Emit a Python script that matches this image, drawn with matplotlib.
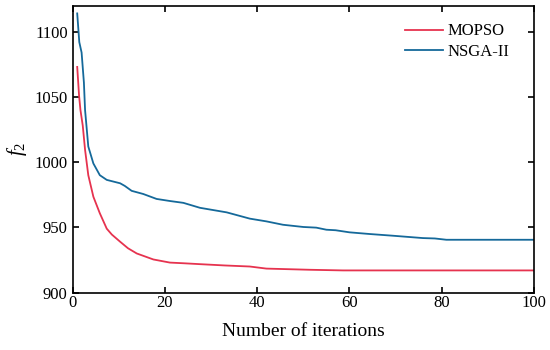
import matplotlib
matplotlib.use("Agg")
import matplotlib.pyplot as plt

# values
mopso_x = [1, 1.4, 1.7, 2.2, 2.7, 3.4, 4.5, 5.9, 7.4, 8.5, 10.3, 12, 13.9, 17.5, 21.1, 24, 27.6,
           33, 38.4, 42, 51.4, 58.6, 70, 80, 90, 100]
mopso_y = [1073, 1051, 1040, 1028, 1009.5, 990, 973.5, 960.8, 949, 944.5, 939, 934, 930, 925.4, 923,
           922.5, 921.8, 920.8, 920, 918.4, 917.5, 917, 917, 917, 917, 917]

nsga_x = [1, 1.45, 1.95, 2.45, 2.7, 3.4, 4.5, 5.9, 7.4, 10.3, 11.3, 12.8, 15.3, 18.2, 21.1,
          24, 27.6, 33.4, 38.4, 42, 45.6, 50, 52.8, 55, 57, 60, 64.4, 69.4, 75.9, 78.5, 81, 90, 100]
nsga_y = [1114, 1092, 1084, 1061, 1040, 1012, 999, 990, 986.4, 983.8, 981.8, 978, 975.6, 971.8,
          970.2, 968.8, 965, 961.5, 956.7, 954.6, 952, 950.3, 949.8, 948.2, 947.8, 946.2, 944.9,
          943.6, 941.8, 941.5, 940.5, 940.5, 940.5]

plt.rcParams['font.family'] = ['Liberation Serif', 'DejaVu Serif']
plt.rcParams['mathtext.fontset'] = 'custom'
plt.rcParams['mathtext.it'] = 'Liberation Serif:italic'
plt.rcParams['mathtext.rm'] = 'Liberation Serif'

fig = plt.figure(figsize=(5.5, 3.5), dpi=100)
ax = fig.add_axes([0.132, 0.164, 0.839, 0.820])

ax.plot(mopso_x, mopso_y, color="#e6334f", lw=1.3, label="MOPSO")
ax.plot(nsga_x, nsga_y, color="#15699a", lw=1.3, label="NSGA-II")

ax.set_xlim(0, 100)
ax.set_ylim(900, 1120)
ax.set_xticks([0, 20, 40, 60, 80, 100])
ax.set_yticks([900, 950, 1000, 1050, 1100])
ax.tick_params(direction="in", top=True, right=True, labelsize=12, width=1.2, length=4)
ax.tick_params(axis="x", pad=1.5)
for s in ax.spines.values():
    s.set_linewidth(1.2)

ax.set_xlabel("Number of iterations", fontsize=14, labelpad=9)
ax.set_ylabel("$f_2$", fontsize=15)

ax.legend(loc="upper right", frameon=False, fontsize=12, handlelength=2.3,
          handletextpad=0.3, labelspacing=0.25, bbox_to_anchor=(0.98, 0.99))

fig.savefig("out.png", dpi=100)
